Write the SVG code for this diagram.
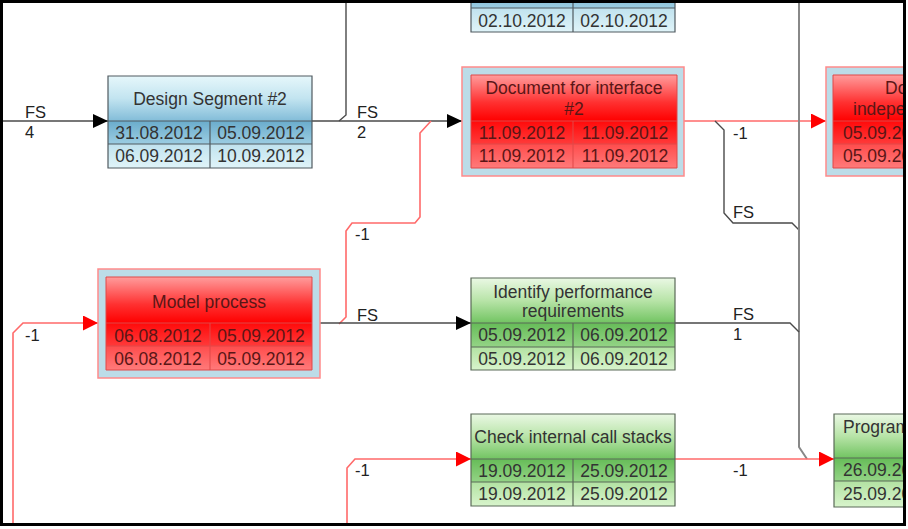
<svg xmlns="http://www.w3.org/2000/svg" width="908" height="529" viewBox="0 0 908 529">
<style>
text{font-family:"Liberation Sans",Arial,sans-serif;font-size:17.5px}
.t{fill:#333;text-anchor:middle}
.tr{fill:#5a1616;text-anchor:middle}
.tl{fill:#333}
.trl{fill:#5a1616}
.lab{fill:#222;font-size:16.5px}
.bb{stroke:#505a60;stroke-width:1.2;fill:none}
.gb{stroke:#5a6a58;stroke-width:1.2;fill:none}
.rb{stroke:#e04848;stroke-width:1;fill:none}
.ro{fill:#bcdce8;stroke:#ff8a8a;stroke-width:1.5}
.ck{fill:none;stroke:#4a4a4a;stroke-width:1.4}
.cg{fill:none;stroke:#888;stroke-width:2}
.cr{fill:none;stroke:#ff6a6a;stroke-width:1.6}
</style>
<defs>
<linearGradient id="bT" x1="0" y1="0" x2="0" y2="1"><stop offset="0" stop-color="#e6f7fb"/><stop offset="0.5" stop-color="#c2e4f0"/><stop offset="1" stop-color="#82bcd8"/></linearGradient>
<linearGradient id="bR1" x1="0" y1="0" x2="0" y2="1"><stop offset="0" stop-color="#6aaccc"/><stop offset="1" stop-color="#9ccde2"/></linearGradient>
<linearGradient id="bR2" x1="0" y1="0" x2="0" y2="1"><stop offset="0" stop-color="#c0e2ee"/><stop offset="1" stop-color="#e0f4f9"/></linearGradient>
<linearGradient id="rT" x1="0" y1="0" x2="0" y2="1"><stop offset="0" stop-color="#ff9c9c"/><stop offset="0.6" stop-color="#ff3030"/><stop offset="1" stop-color="#ff0000"/></linearGradient>
<linearGradient id="rR1" x1="0" y1="0" x2="0" y2="1"><stop offset="0" stop-color="#ff0a0a"/><stop offset="1" stop-color="#ff3a3a"/></linearGradient>
<linearGradient id="rR2" x1="0" y1="0" x2="0" y2="1"><stop offset="0" stop-color="#ff4c4c"/><stop offset="1" stop-color="#ff7a7a"/></linearGradient>
<linearGradient id="gT" x1="0" y1="0" x2="0" y2="1"><stop offset="0" stop-color="#eaf8e4"/><stop offset="0.5" stop-color="#b8e4a8"/><stop offset="1" stop-color="#72c462"/></linearGradient>
<linearGradient id="gR1" x1="0" y1="0" x2="0" y2="1"><stop offset="0" stop-color="#66bc58"/><stop offset="1" stop-color="#94d486"/></linearGradient>
<linearGradient id="gR2" x1="0" y1="0" x2="0" y2="1"><stop offset="0" stop-color="#b2e2a2"/><stop offset="1" stop-color="#d8f4cc"/></linearGradient>
<marker id="ak" markerUnits="userSpaceOnUse" markerWidth="15" markerHeight="14" viewBox="0 0 15 14" refX="15" refY="7" orient="auto"><path d="M0,0L15,7L0,14z" fill="#000"/></marker>
<marker id="ar" markerUnits="userSpaceOnUse" markerWidth="15" markerHeight="15" viewBox="0 0 15 15" refX="15" refY="7.5" orient="auto"><path d="M0,0L15,7.5L0,15z" fill="#ff0000"/></marker>
<clipPath id="clip"><rect x="3" y="3" width="900" height="520"/></clipPath>
</defs>
<rect x="0" y="0" width="908" height="529" fill="#fff"/>
<g clip-path="url(#clip)">
<g id="connectors">
<path class="ck" d="M3,121H108" marker-end="url(#ak)"/>
<path class="ck" d="M346,0V115L339,121"/>
<path class="ck" d="M312,121H462" marker-end="url(#ak)"/>
<path class="cr" d="M339,324L346,317V231L352,223H415L420,217V133L431,121"/>
<path class="cr" d="M684,121H826" marker-end="url(#ar)"/>
<path class="ck" d="M715,121L724,130V213L733,223H792L799,230"/>
<path class="cg" d="M799,0V447L807,459"/>
<path class="ck" d="M675,323H790L799,332"/>
<path class="ck" d="M320,323H471" marker-end="url(#ak)"/>
<path class="cr" d="M13,529V333L23,323H98" marker-end="url(#ar)"/>
<path class="cr" d="M347,529V468L355,459H471" marker-end="url(#ar)"/>
<path class="cr" d="M675,459H834" marker-end="url(#ar)"/>
<text class="lab" x="25" y="118">FS</text>
<text class="lab" x="25" y="138">4</text>
<text class="lab" x="357" y="118">FS</text>
<text class="lab" x="357" y="138">2</text>
<text class="lab" x="355" y="240">-1</text>
<text class="lab" x="733" y="139">-1</text>
<text class="lab" x="733" y="218">FS</text>
<text class="lab" x="357" y="321">FS</text>
<text class="lab" x="733" y="320">FS</text>
<text class="lab" x="733" y="340">1</text>
<text class="lab" x="25" y="341">-1</text>
<text class="lab" x="355" y="476">-1</text>
<text class="lab" x="733" y="476">-1</text>
</g>
<g id="node-top">
<rect x="471" y="-15" width="204" height="23" fill="url(#bR1)"/>
<rect x="471" y="8" width="204" height="24" fill="url(#bR2)"/>
<path class="bb" d="M471,-15H675V32H471Z M471,8H675 M573,-15V32"/>
<text class="t" x="522" y="27">02.10.2012</text>
<text class="t" x="624" y="27">02.10.2012</text>
</g>
<g id="node-design-segment-2">
<rect x="108" y="76" width="204" height="45" fill="url(#bT)"/>
<rect x="108" y="121" width="204" height="23" fill="url(#bR1)"/>
<rect x="108" y="144" width="204" height="24" fill="url(#bR2)"/>
<path class="bb" d="M108,76H312V168H108Z M108,121H312 M108,144H312 M210,121V168"/>
<text class="t" x="210" y="105">Design Segment #2</text>
<text class="t" x="159" y="139">31.08.2012</text>
<text class="t" x="261" y="139">05.09.2012</text>
<text class="t" x="159" y="162">06.09.2012</text>
<text class="t" x="261" y="162">10.09.2012</text>
</g>
<g id="node-document-interface-2">
<rect class="ro" x="462" y="67" width="222" height="109"/>
<rect x="471" y="75" width="206" height="46" fill="url(#rT)"/>
<rect x="471" y="121" width="206" height="23" fill="url(#rR1)"/>
<rect x="471" y="144" width="206" height="24" fill="url(#rR2)"/>
<path class="rb" d="M471,75H677V168H471Z M471,121H677 M471,144H677 M573,121V168"/>
<text class="tr" x="574" y="94">Document for interface</text>
<text class="tr" x="574" y="115">#2</text>
<text class="tr" x="522" y="139">11.09.2012</text>
<text class="tr" x="625" y="139">11.09.2012</text>
<text class="tr" x="522" y="162">11.09.2012</text>
<text class="tr" x="625" y="162">11.09.2012</text>
</g>
<g id="node-document-independent">
<rect class="ro" x="826" y="67" width="222" height="109"/>
<rect x="833" y="75" width="206" height="46" fill="url(#rT)"/>
<rect x="833" y="121" width="206" height="23" fill="url(#rR1)"/>
<rect x="833" y="144" width="206" height="24" fill="url(#rR2)"/>
<path class="rb" d="M833,75H1039V168H833Z M833,121H1039 M833,144H1039"/>
<text class="trl" x="885" y="94">Do</text>
<text class="trl" x="853" y="115">indepe</text>
<text class="trl" x="843" y="139">05.09.20</text>
<text class="trl" x="843" y="162">05.09.20</text>
</g>
<g id="node-model-process">
<rect class="ro" x="98" y="269" width="222" height="109"/>
<rect x="106" y="277" width="206" height="46" fill="url(#rT)"/>
<rect x="106" y="323" width="206" height="23" fill="url(#rR1)"/>
<rect x="106" y="346" width="206" height="24" fill="url(#rR2)"/>
<path class="rb" d="M106,277H312V370H106Z M106,323H312 M106,346H312 M210,323V370"/>
<text class="tr" x="209" y="308">Model process</text>
<text class="tr" x="158" y="342">06.08.2012</text>
<text class="tr" x="261" y="342">05.09.2012</text>
<text class="tr" x="158" y="365">06.08.2012</text>
<text class="tr" x="261" y="365">05.09.2012</text>
</g>
<g id="node-identify-performance">
<rect x="471" y="278" width="204" height="45" fill="url(#gT)"/>
<rect x="471" y="323" width="204" height="24" fill="url(#gR1)"/>
<rect x="471" y="347" width="204" height="23" fill="url(#gR2)"/>
<path class="gb" d="M471,278H675V370H471Z M471,323H675 M471,347H675 M573,323V370"/>
<text class="t" x="573" y="298">Identify performance</text>
<text class="t" x="573" y="317">requirements</text>
<text class="t" x="522" y="341">05.09.2012</text>
<text class="t" x="624" y="341">06.09.2012</text>
<text class="t" x="522" y="365">05.09.2012</text>
<text class="t" x="624" y="365">06.09.2012</text>
</g>
<g id="node-check-internal">
<rect x="471" y="414" width="204" height="45" fill="url(#gT)"/>
<rect x="471" y="459" width="204" height="23" fill="url(#gR1)"/>
<rect x="471" y="482" width="204" height="24" fill="url(#gR2)"/>
<path class="gb" d="M471,414H675V506H471Z M471,459H675 M471,482H675 M573,459V506"/>
<text class="t" x="573" y="443">Check internal call stacks</text>
<text class="t" x="522" y="477">19.09.2012</text>
<text class="t" x="624" y="477">25.09.2012</text>
<text class="t" x="522" y="500">19.09.2012</text>
<text class="t" x="624" y="500">25.09.2012</text>
</g>
<g id="node-program">
<rect x="834" y="414" width="204" height="44" fill="url(#gT)"/>
<rect x="834" y="458" width="204" height="23" fill="url(#gR1)"/>
<rect x="834" y="481" width="204" height="26" fill="url(#gR2)"/>
<path class="gb" d="M834,414H1038V507H834Z M834,458H1038 M834,481H1038"/>
<text class="tl" x="843" y="433">Program</text>
<text class="tl" x="843" y="476">26.09.20</text>
<text class="tl" x="843" y="500">25.09.20</text>
</g>
</g>
<rect x="1.5" y="1.5" width="903" height="523" fill="none" stroke="#000" stroke-width="3"/>
</svg>
